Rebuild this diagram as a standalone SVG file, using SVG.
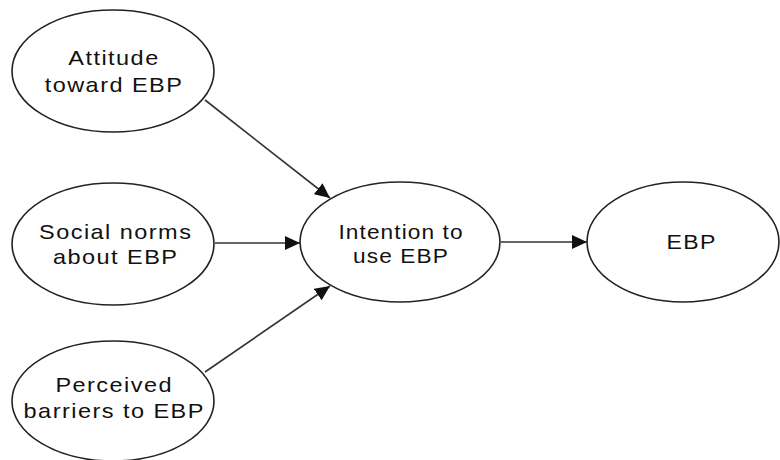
<svg xmlns="http://www.w3.org/2000/svg" width="780" height="460" viewBox="0 0 780 460">
  <defs>
    <marker id="arrow" markerUnits="userSpaceOnUse" markerWidth="16" markerHeight="14" refX="15" refY="7" orient="auto">
      <path d="M0,0 L15,7 L0,14 Z" fill="#111"/>
    </marker>
  </defs>
  <style>
    .node ellipse { fill: #ffffff; stroke: #222; stroke-width: 1.6; }
    .node text { font-family: "Liberation Sans", Arial, sans-serif; font-size: 21px; letter-spacing: 1.3px; fill: #111; text-anchor: middle; }
    .edge { stroke: #333; stroke-width: 1.6; fill: none; marker-end: url(#arrow); }
  </style>
  <rect width="780" height="460" fill="#ffffff"/>
  <g id="connectors">
    <line class="edge" x1="205" y1="100" x2="330" y2="198"/>
    <line class="edge" x1="215" y1="243" x2="300" y2="243"/>
    <line class="edge" x1="205" y1="372" x2="330" y2="286"/>
    <line class="edge" x1="501" y1="242" x2="587" y2="242"/>
  </g>
  <g id="attitude" class="node">
    <ellipse cx="113" cy="71" rx="101" ry="61"/>
    <text transform="translate(114,65) scale(1.12,1)">Attitude</text>
    <text transform="translate(114,92) scale(1.12,1)">toward EBP</text>
  </g>
  <g id="social" class="node">
    <ellipse cx="113" cy="244" rx="101" ry="61"/>
    <text transform="translate(115.7,239) scale(1.12,1)">Social norms</text>
    <text transform="translate(115.7,264) scale(1.12,1)">about EBP</text>
  </g>
  <g id="perceived" class="node">
    <ellipse cx="113" cy="401" rx="101" ry="60"/>
    <text transform="translate(114.2,392) scale(1.12,1)">Perceived</text>
    <text transform="translate(114.2,418) scale(1.12,1)">barriers to EBP</text>
  </g>
  <g id="intention" class="node">
    <ellipse cx="400" cy="242" rx="100" ry="60"/>
    <text transform="translate(401,239) scale(1.08,1)" style="letter-spacing:1px">Intention to</text>
    <text transform="translate(401,263) scale(1.08,1)" style="letter-spacing:1px">use EBP</text>
  </g>
  <g id="ebp" class="node">
    <ellipse cx="683" cy="242" rx="96" ry="60"/>
    <text transform="translate(691.7,249) scale(1.1,1)">EBP</text>
  </g>
</svg>
